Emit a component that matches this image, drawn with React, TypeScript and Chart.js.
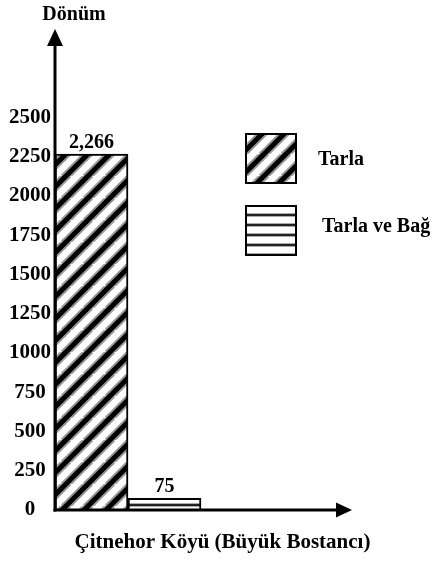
import React, { useEffect, useRef } from 'react';
import { Chart, registerables } from 'chart.js';

Chart.register(...registerables);

const categories = ['Tarla', 'Tarla ve Bağ'];
const values = [2266, 75];
const yTicks = [0, 250, 500, 750, 1000, 1250, 1500, 1750, 2000, 2250, 2500];
const yMax = 2960;
const yAxisTitle = 'Dönüm';
const xAxisTitle = 'Çitnehor Köyü (Büyük Bostancı)';
const FONT = '"Liberation Serif", "Times New Roman", serif';

function diagonalPattern(): CanvasPattern | string {
  const s = 22;
  const c = document.createElement('canvas');
  c.width = s;
  c.height = s;
  const g = c.getContext('2d');
  if (!g) return '#888';
  g.fillStyle = '#fff';
  g.fillRect(0, 0, s, s);
  const draw = (w: number, col: string) => {
    g.strokeStyle = col;
    g.lineWidth = w;
    for (const k of [-s, 0, s]) {
      g.beginPath();
      g.moveTo(k - 2, s + 2);
      g.lineTo(k + s + 2, -2);
      g.stroke();
    }
  };
  draw(9, '#999');
  draw(5, '#000');
  return g.createPattern(c, 'repeat') || '#888';
}

function horizontalPattern(): CanvasPattern | string {
  const s = 10;
  const c = document.createElement('canvas');
  c.width = s;
  c.height = s;
  const g = c.getContext('2d');
  if (!g) return '#ccc';
  g.fillStyle = '#fff';
  g.fillRect(0, 0, s, s);
  g.fillStyle = '#aaa';
  g.fillRect(0, 3, s, 4);
  g.fillStyle = '#222';
  g.fillRect(0, 4, s, 2);
  return g.createPattern(c, 'repeat') || '#ccc';
}

const decorPlugin = {
  id: 'decor',
  afterDatasetsDraw(chart: any) {
    const { ctx, chartArea: ca } = chart;
    ctx.save();
    ctx.fillStyle = '#000';
    ctx.strokeStyle = '#000';

    // value labels
    ctx.font = `bold 20px ${FONT}`;
    ctx.textAlign = 'center';
    ctx.textBaseline = 'alphabetic';
    chart.data.datasets.forEach((ds: any, di: number) => {
      const meta = chart.getDatasetMeta(di);
      meta.data.forEach((el: any, i: number) => {
        const v = ds.data[i];
        if (v == null) return;
        ctx.fillText(Number(v).toLocaleString('en-US'), el.x, el.y - 6);
      });
    });

    // axes with arrows
    const x0 = ca.left;
    const y0 = ca.bottom;
    ctx.lineWidth = 3;
    ctx.beginPath();
    ctx.moveTo(x0, y0 + 1.5);
    ctx.lineTo(x0, ca.top);
    ctx.stroke();
    ctx.beginPath();
    ctx.moveTo(x0, ca.top - 16);
    ctx.lineTo(x0 - 8, ca.top + 1);
    ctx.lineTo(x0 + 8, ca.top + 1);
    ctx.closePath();
    ctx.fill();

    const xEnd = ca.right - 10;
    ctx.beginPath();
    ctx.moveTo(x0 - 1.5, y0);
    ctx.lineTo(xEnd, y0);
    ctx.stroke();
    ctx.beginPath();
    ctx.moveTo(xEnd + 15, y0);
    ctx.lineTo(xEnd - 1, y0 - 7.5);
    ctx.lineTo(xEnd - 1, y0 + 7.5);
    ctx.closePath();
    ctx.fill();

    // axis titles
    ctx.font = `bold 20px ${FONT}`;
    ctx.textAlign = 'center';
    ctx.fillText(yAxisTitle, x0 + 19, 20);
    ctx.font = `bold 21px ${FONT}`;
    ctx.fillText(xAxisTitle, chart.width / 2, y0 + 38);

    // legend
    const boxes = [
      { x: 246, y: 134, tx: 318, ty: 165 },
      { x: 246, y: 206, tx: 322, ty: 232 },
    ];
    chart.data.datasets.forEach((ds: any, di: number) => {
      const b = boxes[di];
      ctx.fillStyle = ds.backgroundColor;
      ctx.fillRect(b.x, b.y, 50, 49);
      ctx.lineWidth = 2;
      ctx.strokeStyle = '#000';
      ctx.strokeRect(b.x, b.y, 50, 49);
      ctx.fillStyle = '#000';
      ctx.textAlign = 'left';
      ctx.font = `bold 20px ${FONT}`;
      ctx.fillText(ds.label, b.tx, b.ty);
    });

    ctx.restore();
  },
};

export default function App() {
  const canvasRef = useRef<HTMLCanvasElement | null>(null);

  useEffect(() => {
    if (!canvasRef.current) return;
    const patterns = [diagonalPattern(), horizontalPattern()];
    const labels = [...categories, '', ''];
    const datasets = categories.map((cat, i) => ({
      label: cat,
      data: labels.map((_, j) => (j === i ? values[i] : null)),
      backgroundColor: patterns[i],
      borderColor: '#000',
      borderWidth: 2,
      grouped: false,
      categoryPercentage: 1,
      barPercentage: 1,
    }));

    const chart = new Chart(canvasRef.current, {
      type: 'bar',
      data: { labels, datasets },
      options: {
        animation: false,
        responsive: true,
        maintainAspectRatio: false,
        layout: { padding: { left: 8, right: 98, top: 45, bottom: 57 } },
        plugins: {
          legend: { display: false },
          tooltip: { enabled: false },
          title: { display: false },
        },
        scales: {
          x: {
            display: false,
          },
          y: {
            min: 0,
            max: yMax,
            grid: { display: false, drawTicks: false },
            border: { display: false },
            afterBuildTicks: (scale: any) => {
              scale.ticks = yTicks.map((v) => ({ value: v }));
            },
            afterFit: (scale: any) => {
              scale.width = 47;
            },
            ticks: {
              autoSkip: false,
              crossAlign: 'center',
              padding: 4,
              color: '#000',
              font: { family: FONT, size: 21, weight: 'bold' },
              callback: (v: any) => String(v),
            },
          },
        },
      },
      plugins: [decorPlugin],
    } as any);

    return () => chart.destroy();
  }, []);

  return (
    <div style={{ position: 'absolute', left: 0, top: 0, width: 445, height: 567, background: '#fff' }}>
      <canvas ref={canvasRef} />
    </div>
  );
}
